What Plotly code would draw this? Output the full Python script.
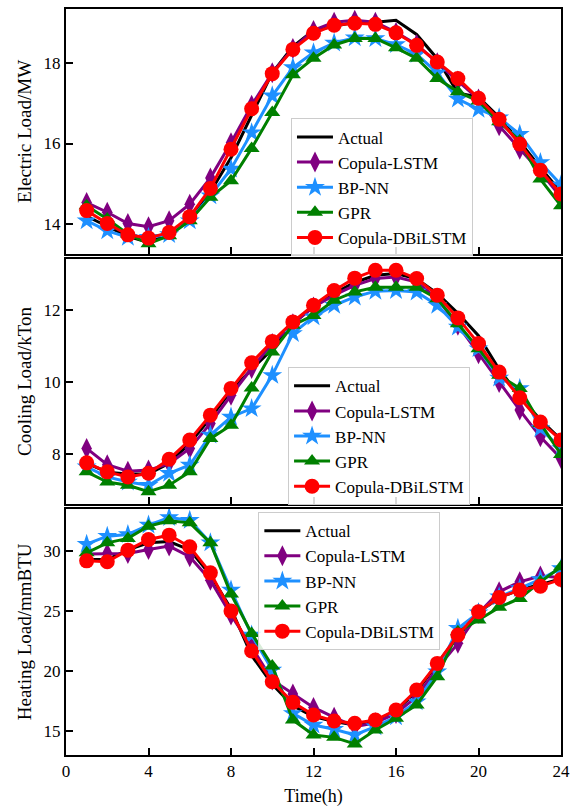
import plotly.graph_objects as go

hours = list(range(1, 25))

# Electric load (MW)
elec_actual = [14.2, 13.95, 13.7, 13.55, 13.75, 14.15, 14.8, 15.65, 16.7, 17.75, 18.4, 18.8,
               18.9, 19.0, 19.0, 19.05, 18.7, 18.1, 17.25, 17.15, 16.65, 16.05, 15.4, 14.8]
elec_lstm = [14.54, 14.3, 14.02, 13.94, 14.09, 14.5, 15.15, 16.02, 16.95, 17.75, 18.35, 18.8,
             19.0, 19.05, 19.0, 18.75, 18.45, 18.0, 17.55, 17.1, 16.44, 15.86, 15.3, 14.67]
elec_bp = [14.09, 13.84, 13.68, 13.68, 13.75, 14.09, 14.71, 15.37, 16.27, 17.18, 17.88, 18.25,
           18.49, 18.62, 18.6, 18.45, 18.21, 17.75, 17.1, 16.85, 16.64, 16.23, 15.53, 14.98]
elec_gpr = [14.46, 14.13, 13.76, 13.52, 13.72, 14.09, 14.67, 15.08, 15.88, 16.77, 17.7, 18.11,
            18.44, 18.6, 18.6, 18.37, 18.11, 17.61, 17.28, 17.05, 16.54, 16.07, 15.12, 14.46]
elec_dbi = [14.34, 14.02, 13.74, 13.66, 13.8, 14.19, 14.89, 15.86, 16.86, 17.73, 18.33, 18.73,
            18.93, 18.98, 18.95, 18.74, 18.43, 18.02, 17.61, 17.12, 16.6, 15.99, 15.34, 14.75]

# Cooling load (kTon)
cool_actual = [7.75, 7.5, 7.45, 7.45, 7.75, 8.3, 9.0, 9.75, 10.35, 10.9, 11.6, 12.1,
               12.45, 12.75, 12.95, 13.0, 12.85, 12.45, 11.9, 11.28, 10.35, 9.6, 8.95, 8.4]
cool_lstm = [8.16, 7.71, 7.53, 7.56, 7.74, 8.16, 8.85, 9.63, 10.37, 11.06, 11.61, 12.07,
             12.4, 12.67, 12.86, 12.9, 12.76, 12.3, 11.57, 10.78, 9.98, 9.22, 8.48, 7.88]
cool_bp = [7.65, 7.37, 7.23, 7.14, 7.47, 7.7, 8.53, 9.03, 9.26, 10.18, 11.34, 11.8,
           12.12, 12.35, 12.51, 12.53, 12.49, 12.12, 11.52, 10.92, 10.11, 9.82, 8.71, 8.16]
cool_gpr = [7.51, 7.23, 7.14, 6.96, 7.14, 7.51, 8.43, 8.8, 9.83, 10.83, 11.57, 11.84,
            12.26, 12.49, 12.62, 12.62, 12.62, 12.3, 11.61, 10.92, 10.18, 9.82, 8.85, 7.99]
cool_dbi = [7.76, 7.51, 7.37, 7.47, 7.86, 8.39, 9.08, 9.82, 10.53, 11.12, 11.66, 12.12,
            12.53, 12.87, 13.09, 13.09, 12.86, 12.4, 11.77, 11.06, 10.27, 9.56, 8.89, 8.39]

# Heating load (mmBTU)
heat_actual = [29.3, 29.3, 30.1, 30.7, 30.8, 30.1, 28.0, 25.2, 21.3, 18.9, 17.1, 16.2,
               15.8, 15.5, 15.8, 16.7, 18.3, 20.6, 22.9, 24.9, 26.1, 26.8, 27.2, 27.7]
heat_lstm = [29.75, 29.8, 29.8, 30.14, 30.42, 29.53, 27.58, 24.67, 22.03, 19.25, 18.08, 16.97,
             16.14, 15.36, 15.69, 16.47, 17.86, 20.22, 22.31, 24.81, 26.61, 27.44, 27.92, 27.81]
heat_bp = [30.58, 31.25, 31.39, 32.17, 32.81, 32.58, 30.69, 26.75, 23.0, 20.08, 16.47, 15.5,
           15.14, 14.67, 15.36, 16.19, 17.44, 19.94, 23.56, 24.86, 26.19, 26.89, 27.64, 28.56]
heat_gpr = [29.86, 30.69, 31.06, 32.08, 32.53, 32.36, 30.69, 26.42, 23.14, 20.42, 15.92, 14.67,
            14.47, 13.92, 15.08, 16.06, 17.17, 19.53, 23.28, 24.25, 25.31, 26.06, 27.44, 28.69]
heat_dbi = [29.19, 29.11, 30.08, 30.97, 31.33, 30.36, 28.19, 25.0, 21.67, 19.11, 17.39, 16.33,
            15.83, 15.64, 15.92, 16.75, 18.42, 20.64, 23.0, 24.94, 26.14, 26.75, 27.08, 27.64]

series_names = ["Actual", "Copula-LSTM", "BP-NN", "GPR", "Copula-DBiLSTM"]
colors = ["black", "#800080", "#1E90FF", "#008000", "#FF0000"]
symbols = [None, "diamond-tall", "star", "triangle-up", "circle"]
msizes = [0, 15, 15, 14, 15]

panels = [
    ("Electric Load/MW", [elec_actual, elec_lstm, elec_bp, elec_gpr, elec_dbi], [14, 16, 18], [13.27, 19.33]),
    ("Cooling Load/kTon", [cool_actual, cool_lstm, cool_bp, cool_gpr, cool_dbi], [8, 10, 12], [6.63, 13.39]),
    ("Heating Load/mmBTU", [heat_actual, heat_lstm, heat_bp, heat_gpr, heat_dbi], [15, 20, 25, 30], [13.0, 33.54]),
]
domains = [[0.6718, 1.0], [0.3369, 0.6644], [0.0, 0.3302]]
legend_pos = [(0.4545, 0.8533), (0.4486, 0.5198), (0.3886, 0.3255)]
x_ticks = [0, 4, 8, 12, 16, 20, 24]

FONT = "Liberation Serif, Times New Roman, serif"

fig = go.Figure()
layout = dict(
    width=574, height=807,
    margin=dict(l=65.5, r=13, t=8.5, b=52, autoexpand=False),
    plot_bgcolor="white", paper_bgcolor="white",
    font=dict(family=FONT, size=17, color="black"),
)

for i, (title, data, yt, yr) in enumerate(panels):
    n = i + 1
    xa = "x" if n == 1 else f"x{n}"
    ya = "y" if n == 1 else f"y{n}"
    lg = "legend" if n == 1 else f"legend{n}"
    for j, name in enumerate(series_names):
        if symbols[j] is None:
            mode = "lines"
            marker = None
        else:
            mode = "lines+markers"
            marker = dict(symbol=symbols[j], size=msizes[j], color=colors[j],
                          line=dict(width=0))
        fig.add_trace(go.Scatter(
            x=hours, y=data[j], name=name, mode=mode,
            line=dict(color=colors[j], width=3),
            marker=marker, xaxis=xa, yaxis=ya, legend=lg,
        ))
    xkey = "xaxis" if n == 1 else f"xaxis{n}"
    ykey = "yaxis" if n == 1 else f"yaxis{n}"
    layout[xkey] = dict(
        domain=[0, 1], anchor=ya, range=[0, 24], tickvals=x_ticks,
        showticklabels=(n == 3), ticks="inside", ticklen=7, tickwidth=1.5,
        tickcolor="black", showline=True, linewidth=2, linecolor="black",
        mirror=True, showgrid=False, zeroline=False, automargin=False,
        tickfont=dict(family=FONT, size=17),
        title=dict(text="Time(h)", font=dict(family=FONT, size=18), standoff=9) if n == 3 else None,
    )
    layout[ykey] = dict(
        domain=domains[i], anchor=xa, range=yr, tickvals=yt,
        ticks="inside", ticklen=7, tickwidth=1.5, tickcolor="black",
        showline=True, linewidth=2, linecolor="black", mirror=True,
        showgrid=False, zeroline=False, automargin=False,
        tickfont=dict(family=FONT, size=17),
        title=dict(text=title, font=dict(family=FONT, size=19), standoff=7),
    )
    lx, ly = legend_pos[i]
    layout[lg] = dict(
        x=lx, y=ly, xanchor="left", yanchor="top",
        bgcolor="rgba(255,255,255,0.85)", bordercolor="#cccccc", borderwidth=1,
        font=dict(family=FONT, size=17, color="black"),
        tracegroupgap=0, itemwidth=36,
    )

fig.update_layout(**layout)
fig.write_html(
    "out.html",
    config={"displayModeBar": False},
    post_script=(
        "document.documentElement.style.overflow='hidden';"
        "document.body.style.margin='0';"
        "document.body.style.overflow='hidden';"
    ),
)
